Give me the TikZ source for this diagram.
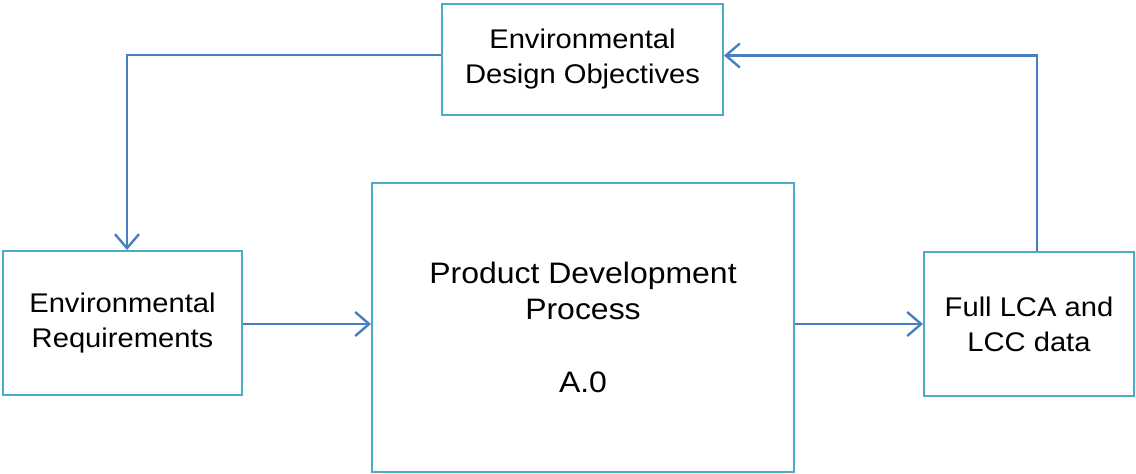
\documentclass[tikz,border=0pt]{standalone}
\usepackage{fontspec}
\setmainfont[FakeStretch=1.08]{Liberation Sans}
\usetikzlibrary{arrows.meta}
\definecolor{boxBlue}{HTML}{4BACC6}
\definecolor{flowBlue}{HTML}{4A7EC2}
\tikzset{edBox/.style={draw=boxBlue,line width=1pt,rectangle,align=center,inner sep=2pt,
   font=\fontsize{13.5}{17.5}\selectfont},
 edMain/.style={edBox,font=\fontsize{14.8}{18.3}\selectfont},
 edFlow/.style={draw=flowBlue,line width=1.2pt,-{Straight Barb[length=7pt,width=12pt,line width=1.2pt]}}}

\begin{document}
\begin{tikzpicture}[x=0.5pt,y=-0.5pt]
\useasboundingbox (0,0) rectangle (1136,473);
\node[edBox,minimum width=140.5pt,minimum height=55.5pt] (obj) at (582.5,59.5) {Environmental\\Design Objectives};
\node[edBox,minimum width=119.5pt,minimum height=72pt] (req) at (122.5,323) {Environmental\\Requirements};
\node[edMain,minimum width=211pt,minimum height=144.5pt] (pdp) at (583,327.5) {Product Development\\Process\\[18.3pt]A.0};
\node[edBox,minimum width=105pt,minimum height=72pt] (lca) at (1029,324) {Full LCA and\\LCC data};
\draw[edFlow] ([yshift=2.25pt]obj.west) -| ([xshift=2.25pt]req.north);
\draw[edFlow] ([yshift=-0.5pt]req.east) -- ([yshift=-0.5pt]req.east -| pdp.west);
\draw[edFlow] (lca.west -| pdp.east) -- (lca.west);
\draw[edFlow] ([xshift=4pt]lca.north) |- ([yshift=2pt]obj.east);
\end{tikzpicture}
\end{document}
